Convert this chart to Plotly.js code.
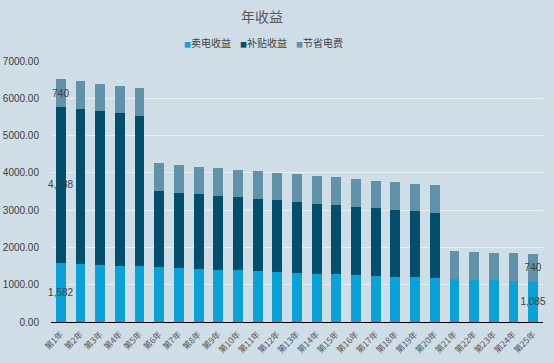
<!DOCTYPE html>
<html>
<head>
<meta charset="utf-8">
<script src="https://cdn.plot.ly/plotly-3.0.1.min.js"></script>
<style>html,body{margin:0;padding:0;background:#cedde6;}#chart{width:554px;height:363px;}</style>
</head>
<body>
<div id="chart"></div>
<script>
var years = ["第1年","第2年","第3年","第4年","第5年","第6年","第7年","第8年","第9年","第10年","第11年","第12年","第13年","第14年","第15年","第16年","第17年","第18年","第19年","第20年","第21年","第22年","第23年","第24年","第25年"];
var sellIncome = [1582,1556,1536,1512,1492,1467,1448,1428,1405,1386,1366,1348,1325,1300,1280,1260,1240,1218,1204,1180,1162,1136,1118,1100,1085];
var subsidyIncome = [4188,4158,4116,4087,4045,2045,2020,2000,1975,1958,1935,1915,1895,1875,1858,1830,1812,1790,1770,1750,0,0,0,0,0];
var savedCost = [740,740,740,740,740,740,740,740,740,740,740,740,740,740,740,740,740,740,740,740,740,740,740,740,740];
var seriesNames = ["卖电收益","补贴收益","节省电费"];
var seriesColors = ["#0aa3d9","#024f6d","#6092aa"];

function fmt(v){ return v.toLocaleString("en-US"); }
function edgeLabels(arr){
  return arr.map(function(v,i){ return ((i===0 || i===arr.length-1) && v>0) ? fmt(v) : ""; });
}

var allSeries = [sellIncome, subsidyIncome, savedCost];
var traces = allSeries.map(function(vals, k){
  return {
    type: "bar",
    name: seriesNames[k],
    x: years,
    y: vals,
    marker: {color: seriesColors[k]},
    text: edgeLabels(vals),
    textposition: "inside",
    insidetextanchor: "middle",
    textangle: 0,
    constraintext: "none",
    cliponaxis: false,
    textfont: {color: "#404040", size: 10, family: "Liberation Sans, Arial, sans-serif"},
    showlegend: false,
    hoverinfo: "x+y+name"
  };
});

var legendText = seriesNames.map(function(n, k){
  return '<span style="color:' + seriesColors[k] + ';font-size:7px">■</span>' + n;
}).join('&nbsp;&nbsp;&nbsp;&nbsp;');

var layout = {
  width: 554, height: 363,
  paper_bgcolor: "#cedde6",
  plot_bgcolor: "#cedde6",
  barmode: "stack",
  bargap: 0.5,
  margin: {l: 51, r: 11, t: 61, b: 41},
  font: {family: "Liberation Sans, Noto Sans CJK SC, sans-serif", color: "#404040", size: 10},
  title: {
    text: "年收益",
    x: 262/554, xanchor: "center", xref: "container",
    y: 1 - 17/363, yanchor: "middle", yref: "container",
    font: {family: "Noto Sans CJK SC, sans-serif", size: 14, color: "#595959"}
  },
  showlegend: false,
  annotations: [{
    text: legendText,
    xref: "paper", yref: "paper",
    x: (263 - 51) / 492, xanchor: "center",
    y: 1 + 19/261, yanchor: "middle",
    showarrow: false,
    font: {family: "Noto Sans CJK SC, sans-serif", size: 10, color: "#404040"}
  }],
  xaxis: {
    type: "category",
    tickangle: -45,
    tickfont: {family: "Noto Sans CJK SC, sans-serif", size: 8.5, color: "#595959"},
    showline: true, linecolor: "#000000", linewidth: 1,
    showgrid: false,
    ticks: "outside", ticklen: 3, tickcolor: "rgba(0,0,0,0)",
    fixedrange: true
  },
  yaxis: {
    range: [0, 7000],
    dtick: 1000,
    tickformat: ".2f",
    showgrid: true, gridcolor: "#e8eff3", gridwidth: 1,
    zeroline: false,
    showline: false,
    ticks: "outside", ticklen: 9, tickcolor: "rgba(0,0,0,0)",
    tickfont: {family: "Liberation Sans, Arial, sans-serif", size: 10, color: "#404040"},
    fixedrange: true
  }
};

Plotly.newPlot("chart", traces, layout, {displayModeBar: false, staticPlot: true});
</script>
</body>
</html>
